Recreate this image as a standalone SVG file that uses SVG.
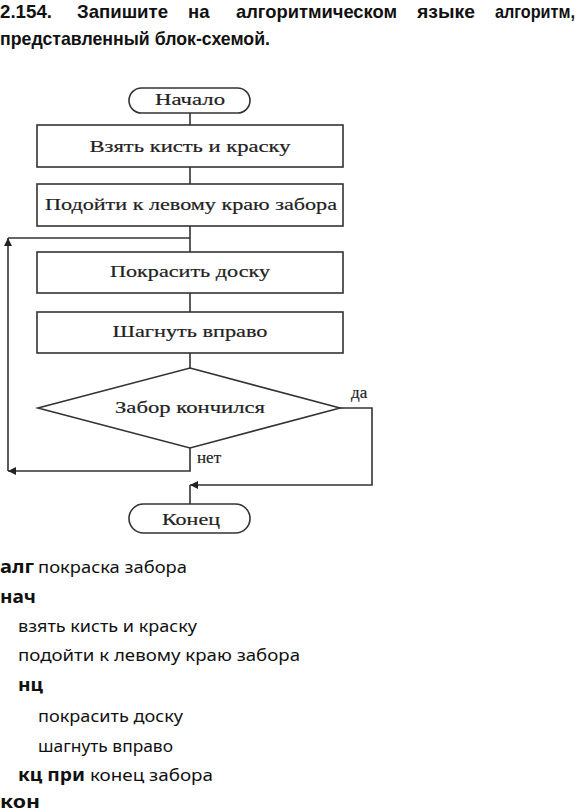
<svg xmlns="http://www.w3.org/2000/svg" width="580" height="812" viewBox="0 0 580 812">
<style>
.t{font-family:"Liberation Sans","Noto Sans",sans-serif;font-weight:bold;font-size:18.5px;fill:#111}
.fc{font-family:"Liberation Serif","DejaVu Serif",serif;font-size:17.5px;fill:#222;stroke:#222;stroke-width:0.2;text-anchor:middle}
.lb{font-family:"Liberation Serif","DejaVu Serif",serif;font-size:17px;fill:#222;stroke:#222;stroke-width:0.2}
.c{font-family:"Noto Sans","Open Sans",sans-serif;font-size:17px;fill:#111}
.b{font-weight:bold}
.shape{fill:#fff;stroke:#333;stroke-width:1.6}
.ln{fill:none;stroke:#333;stroke-width:1.6}
</style>
<defs>
<marker id="ah" viewBox="0 0 10 10" refX="10" refY="5" markerWidth="12" markerHeight="8" markerUnits="userSpaceOnUse" orient="auto">
<path d="M0,0 L10,5 L0,10 z" fill="#222"/>
</marker>
</defs>
<rect width="580" height="812" fill="#fff"/>
<g id="title">
<text class="t" x="0" y="18" textLength="52" lengthAdjust="spacingAndGlyphs">2.154.</text>
<text class="t" x="77" y="18" textLength="91" lengthAdjust="spacingAndGlyphs">Запишите</text>
<text class="t" x="188" y="18">на</text>
<text class="t" x="236" y="18" textLength="161" lengthAdjust="spacingAndGlyphs">алгоритмическом</text>
<text class="t" x="417" y="18" textLength="58" lengthAdjust="spacingAndGlyphs">языке</text>
<text class="t" x="495" y="18" textLength="80" lengthAdjust="spacingAndGlyphs">алгоритм,</text>
<text class="t" x="0" y="45" textLength="270" lengthAdjust="spacingAndGlyphs">представленный блок-схемой.</text>
</g>
<g id="connectors">
<line class="ln" x1="190" y1="113" x2="190" y2="125"/>
<line class="ln" x1="190" y1="167" x2="190" y2="184"/>
<line class="ln" x1="190" y1="226" x2="190" y2="252"/>
<line class="ln" x1="190" y1="293" x2="190" y2="312"/>
<line class="ln" x1="190" y1="353" x2="190" y2="368"/>
<polyline class="ln" points="190,448 190,471 8,471" marker-end="url(#ah)"/>
<polyline class="ln" points="8,471 8,238" marker-end="url(#ah)"/>
<line class="ln" x1="8" y1="238" x2="190" y2="238"/>
<polyline class="ln" points="340,408 372,408 372,485 190,485" marker-end="url(#ah)"/>
<line class="ln" x1="190" y1="485" x2="190" y2="504"/>
<text class="lb" x="351" y="398">да</text>
<text class="lb" x="197" y="463">нет</text>
</g>
<g id="start">
<rect class="shape" x="129" y="88" width="121" height="25" rx="12.5"/>
<text class="fc" x="190" y="105" textLength="70" lengthAdjust="spacingAndGlyphs">Начало</text>
</g>
<g id="take">
<rect class="shape" x="37" y="125" width="306" height="42"/>
<text class="fc" x="190" y="152" textLength="201" lengthAdjust="spacingAndGlyphs">Взять кисть и краску</text>
</g>
<g id="goleft">
<rect class="shape" x="37" y="184" width="306" height="42"/>
<text class="fc" x="191" y="210" textLength="292" lengthAdjust="spacingAndGlyphs">Подойти к левому краю забора</text>
</g>
<g id="paint">
<rect class="shape" x="37" y="252" width="306" height="41"/>
<text class="fc" x="190" y="277" textLength="160" lengthAdjust="spacingAndGlyphs">Покрасить доску</text>
</g>
<g id="step">
<rect class="shape" x="37" y="312" width="306" height="41"/>
<text class="fc" x="190" y="337" textLength="155" lengthAdjust="spacingAndGlyphs">Шагнуть вправо</text>
</g>
<g id="cond">
<polygon class="shape" points="190,368 340,408 190,448 38,408"/>
<text class="fc" x="190" y="413" textLength="150" lengthAdjust="spacingAndGlyphs">Забор кончился</text>
</g>
<g id="end">
<rect class="shape" x="129" y="504" width="121" height="29" rx="14.5"/>
<text class="fc" x="191" y="525" textLength="58" lengthAdjust="spacingAndGlyphs">Конец</text>
</g>
<g id="code">
<text class="c b" x="0" y="573" textLength="34" lengthAdjust="spacingAndGlyphs">алг</text>
<text class="c" x="38" y="573" textLength="149" lengthAdjust="spacingAndGlyphs">покраска забора</text>
<text class="c b" x="0" y="603" textLength="36" lengthAdjust="spacingAndGlyphs">нач</text>
<text class="c" x="18" y="632" textLength="179" lengthAdjust="spacingAndGlyphs">взять кисть и краску</text>
<text class="c" x="18" y="661" textLength="282" lengthAdjust="spacingAndGlyphs">подойти к левому краю забора</text>
<text class="c b" x="18" y="691" textLength="25" lengthAdjust="spacingAndGlyphs">нц</text>
<text class="c" x="38" y="722" textLength="145" lengthAdjust="spacingAndGlyphs">покрасить доску</text>
<text class="c" x="38" y="752" textLength="135" lengthAdjust="spacingAndGlyphs">шагнуть вправо</text>
<text class="c b" x="18" y="781" textLength="67" lengthAdjust="spacingAndGlyphs">кц при</text>
<text class="c" x="90" y="781" textLength="123" lengthAdjust="spacingAndGlyphs">конец забора</text>
<text class="c b" x="0" y="808" textLength="40" lengthAdjust="spacingAndGlyphs">кон</text>
</g>
</svg>
